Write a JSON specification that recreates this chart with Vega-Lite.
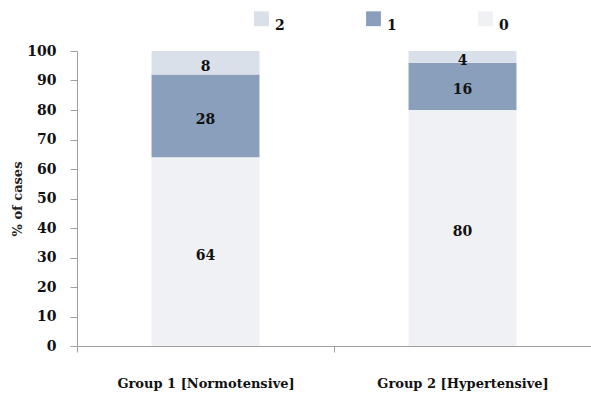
{
  "$schema": "https://vega.github.io/schema/vega-lite/v6.json",
  "autosize": "none",
  "padding": {"left": 77, "top": 51, "right": 0, "bottom": 59},
  "width": 514,
  "height": 295,
  "background": "white",
  "config": {
    "view": {"stroke": null},
    "font": "DejaVu Serif",
    "axisY": {
      "titleFont": "DejaVu Serif", "titleFontSize": 13,
      "titleFontWeight": "bold", "titleColor": "#222", "titlePadding": 2,
      "labelOverlap": false,
      "labelFont": "DejaVu Serif", "labelFontWeight": "bold", "labelFontSize": 14,
      "labelColor": "#111", "labelPadding": 14, "grid": false,
      "domainColor": "#a0a0a0", "tickColor": "#a0a0a0", "tickSize": 7
    }
  },
  "data": {
    "values": [
      {"group": "Group 1 [Normotensive]", "grade": "0", "pct": 64},
      {"group": "Group 1 [Normotensive]", "grade": "1", "pct": 28},
      {"group": "Group 1 [Normotensive]", "grade": "2", "pct": 8},
      {"group": "Group 2 [Hypertensive]", "grade": "0", "pct": 80},
      {"group": "Group 2 [Hypertensive]", "grade": "1", "pct": 16},
      {"group": "Group 2 [Hypertensive]", "grade": "2", "pct": 4}
    ]
  },
  "transform": [
    {"calculate": "datum.grade === '0' ? 0 : datum.grade === '1' ? 1 : 2", "as": "ord"},
    {"stack": "pct", "groupby": ["group"], "sort": [{"field": "ord", "order": "ascending"}], "as": ["y0", "y1"]},
    {"calculate": "(datum.y0 + datum.y1) / 2", "as": "ymid"}
  ],
  "encoding": {
    "x": {
      "field": "group", "type": "nominal", "sort": null,
      "scale": {"paddingInner": 0, "paddingOuter": 0},
      "axis": {
        "title": null, "labelAngle": 0, "labelFont": "DejaVu Serif", "labelFontWeight": "bold",
        "labelFontSize": 13, "labelColor": "#111", "labelPadding": 25, "labelLimit": 0,
        "domainColor": "#a0a0a0", "tickColor": "#a0a0a0", "tickSize": 6, "tickBand": "extent"
      }
    }
  },
  "layer": [
    {
      "mark": {"type": "bar", "width": {"band": 0.42}},
      "encoding": {
        "y": {
          "field": "y0", "type": "quantitative",
          "scale": {"domain": [0, 100]},
          "axis": {"title": "% of cases", "values": [0,10,20,30,40,50,60,70,80,90,100]}
        },
        "y2": {"field": "y1"},
        "color": {
          "field": "grade", "type": "nominal",
          "scale": {"domain": ["2", "1", "0"], "range": ["#d9e0ea", "#8a9fbb", "#eff1f4"]},
          "legend": {
            "title": null, "orient": "none", "direction": "horizontal",
            "legendX": 177, "legendY": -40, "columns": 3, "columnPadding": 81,
            "symbolType": "square", "symbolSize": 220, "symbolStrokeWidth": 0,
            "labelFont": "DejaVu Serif", "labelFontWeight": "bold", "labelFontSize": 14,
            "labelColor": "#111", "labelOffset": 6, "labelBaseline": "top"
          }
        }
      }
    },
    {
      "mark": {"type": "text", "font": "DejaVu Serif", "fontWeight": "bold", "fontSize": 14, "color": "#111", "baseline": "middle", "dy": 4},
      "encoding": {
        "y": {
          "field": "ymid", "type": "quantitative",
          "axis": {"title": "% of cases", "values": [0,10,20,30,40,50,60,70,80,90,100]}
        },
        "text": {"field": "pct", "type": "quantitative"}
      }
    }
  ]
}
